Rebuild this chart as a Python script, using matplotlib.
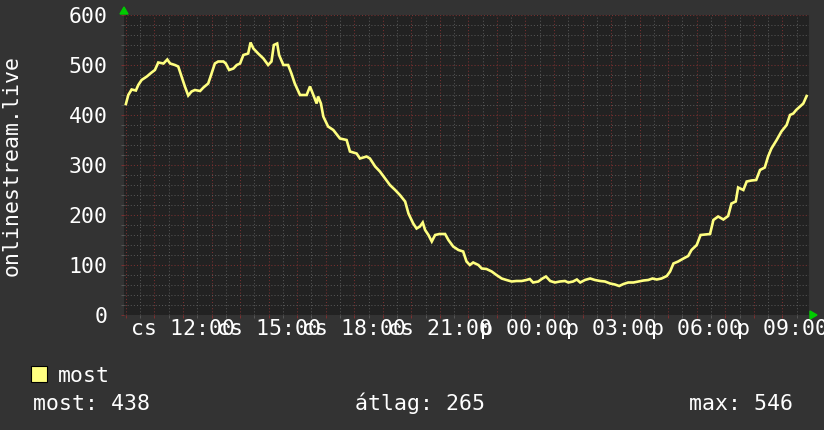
import matplotlib
matplotlib.use("Agg")
import matplotlib.pyplot as plt
from matplotlib.ticker import MultipleLocator, FuncFormatter

# minutes since Thursday 00:00 and number of listeners
percek = [600, 605, 612, 621, 626, 633, 644, 654, 661, 668, 679, 687, 693, 703, 710,
          717, 724, 731, 738, 745, 756, 763, 773, 778, 787, 794, 805, 810, 817, 826,
          833, 840, 847, 857, 862, 868, 878, 889, 899, 906, 911, 918, 922, 931, 941,
          948, 955, 966, 980, 987, 994, 1001, 1004, 1010, 1015, 1025, 1036, 1050, 1064,
          1071, 1085, 1092, 1106, 1113, 1124, 1134, 1145, 1155, 1166, 1176, 1187, 1194,
          1204, 1211, 1218, 1224, 1229, 1236, 1243, 1250, 1259, 1271, 1278, 1288, 1299,
          1309, 1316, 1323, 1330, 1341, 1348, 1358, 1369, 1379, 1390, 1400, 1411, 1421,
          1432, 1442, 1449, 1456, 1467, 1474, 1483, 1492, 1502, 1512, 1523, 1530, 1540,
          1548, 1555, 1565, 1576, 1586, 1597, 1607, 1618, 1628, 1637, 1646, 1656, 1667,
          1677, 1688, 1698, 1707, 1716, 1726, 1737, 1744, 1751, 1761, 1772, 1782, 1789,
          1800, 1808, 1817, 1828, 1835, 1845, 1856, 1866, 1873, 1882, 1887, 1898, 1905,
          1915, 1925, 1933, 1943, 1950, 1957, 1968, 1978, 1989, 1996, 2003, 2009, 2017,
          2024, 2031]
hallgatok = [422, 440, 451, 449, 460, 470, 477, 485, 490, 505, 503, 511, 503, 500, 497,
             477, 457, 439, 447, 450, 448, 455, 463, 477, 503, 507, 507, 503, 490, 493,
             500, 503, 520, 523, 545, 533, 523, 513, 500, 507, 540, 543, 520, 500, 500,
             483, 463, 440, 440, 457, 440, 423, 437, 423, 397, 377, 370, 353, 350,
             327, 323, 313, 317, 313, 297, 287, 273, 260, 250, 240, 227, 203,
             183, 173, 177, 185, 170, 160, 147, 160, 162, 162, 150, 137, 130,
             127, 107, 100, 105, 100, 93, 92, 87, 80, 73, 70, 67, 68,
             68, 70, 72, 65, 67, 72, 77, 68, 65, 67, 68, 65, 67,
             71, 65, 70, 73, 70, 68, 67, 63, 61, 58, 62, 65, 65,
             67, 69, 70, 73, 71, 73, 78, 87, 103, 107, 113, 118, 130,
             140, 160, 161, 162, 190, 197, 191, 198, 223, 227, 255, 250, 267,
             269, 270, 290, 295, 317, 333, 350, 367, 380, 400, 403, 410, 417,
             423, 438]
napok = ["cs", "p"]
felirat = "onlinestream.live"
jelmagyarazat = "most"
osszegzes = [("most", 438), ("átlag", 265), ("max", 546)]

hatter = "#333333"
rajzter = "#222222"
piros = "#7a3030"
szurke = "#555555"
sarga = "#ffff80"
zold = "#00cc00"

plt.rcParams["font.family"] = ["DejaVu Sans Mono", "DejaVu Sans"]
fig = plt.figure(figsize=(8.24, 4.30), dpi=100, facecolor=hatter)
W, H = 824, 430
ax = fig.add_axes([124 / W, (H - 315) / H, 685 / W, 300 / H], facecolor=rajzter)

ax.plot(percek, hallgatok, color=sarga, lw=1.9, zorder=3, solid_joinstyle="miter")
ax.set_xlim(596, 2036)
ax.set_ylim(0, 600)

# grid like rrdtool
ax.xaxis.set_major_locator(MultipleLocator(60))
ax.xaxis.set_minor_locator(MultipleLocator(30))
ax.yaxis.set_major_locator(MultipleLocator(100))
ax.yaxis.set_minor_locator(MultipleLocator(20))
ax.grid(which="minor", color=szurke, lw=0.75, ls=(0, (1, 2)))
ax.grid(which="major", color=piros, lw=0.75, ls=(0, (1, 2)))
ax.set_axisbelow(True)

def idocimke(m, pos):
    m = int(round(m))
    if m % 180 != 0:
        return ""
    nap = napok[m // 1440]
    return "%s %02d:00" % (nap, (m % 1440) // 60)

ax.xaxis.set_major_formatter(FuncFormatter(idocimke))
ax.tick_params(axis="both", which="major", colors=piros, length=2.2, width=0.75,
               labelcolor="white", labelsize=15.5)
ax.tick_params(axis="both", which="minor", colors=szurke, length=2.2, width=0.75)
ax.tick_params(axis="x", which="major", pad=1)
ax.tick_params(axis="y", which="major", pad=9.5)
for s in ax.spines.values():
    s.set_visible(False)

ax.set_ylabel(felirat, color="white", fontsize=15.5)
ax.yaxis.set_label_coords(-102 / 685, 0.5)

# green arrows at the axis ends
fig.patches.append(plt.Polygon([[120 / W, 1 - 14 / H], [128 / W, 1 - 14 / H], [124 / W, 1 - 7 / H]],
                               closed=True, color=zold, transform=fig.transFigure))
fig.patches.append(plt.Polygon([[810 / W, 1 - 311 / H], [810 / W, 1 - 319 / H], [817 / W, 1 - 315 / H]],
                               closed=True, color=zold, transform=fig.transFigure))

# legend
fig.patches.append(plt.Rectangle((31 / W, 1 - 382 / H), 16 / W, 16 / H, facecolor=sarga,
                                 edgecolor="black", lw=0.8, transform=fig.transFigure))
fig.text(58 / W, 1 - 382 / H, jelmagyarazat, color="white", fontsize=15.5, va="baseline")
helyek = [33, 355, 689]
for (nev, ertek), x in zip(osszegzes, helyek):
    fig.text(x / W, 1 - 410 / H, "%s: %d" % (nev, ertek), color="white", fontsize=15.5,
             va="baseline")

fig.savefig("out.png", dpi=100, facecolor=hatter)
